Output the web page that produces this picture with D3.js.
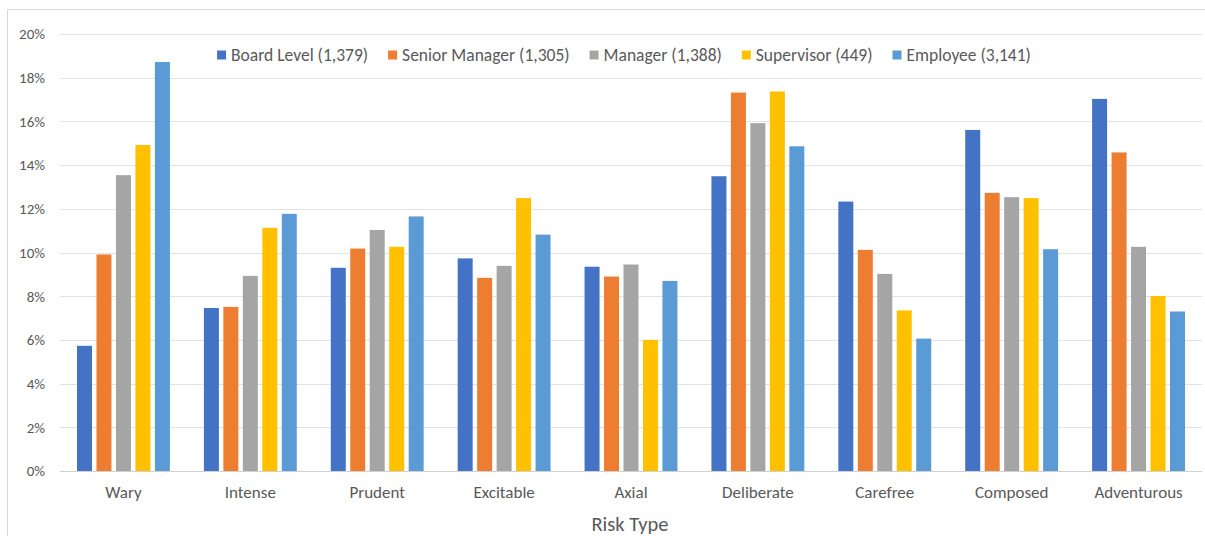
<!DOCTYPE html>
<html>
<head>
<meta charset="utf-8">
<script src="https://cdn.jsdelivr.net/npm/d3@7"></script>
<style>
  html, body { margin: 0; padding: 0; background: #fff; }
  svg { display: block; font-family: Calibri, Carlito, "Liberation Sans", Arial, sans-serif; }
</style>
</head>
<body>
<svg id="chart" width="1205" height="536"></svg>
<script>
const categories = ["Wary", "Intense", "Prudent", "Excitable", "Axial", "Deliberate", "Carefree", "Composed", "Adventurous"];
const seriesNames = ["Board Level (1,379)", "Senior Manager (1,305)", "Manager (1,388)", "Supervisor (449)", "Employee (3,141)"];
const boardLevel    = [5.73, 7.46, 9.30, 9.73, 9.35, 13.49, 12.33, 15.61, 17.03];
const seniorManager = [9.91, 7.51, 10.18, 8.84, 8.90, 17.32, 10.12, 12.73, 14.58];
const manager       = [13.54, 8.93, 11.03, 9.39, 9.45, 15.92, 9.02, 12.53, 10.26];
const supervisor    = [14.92, 11.13, 10.26, 12.49, 6.00, 17.37, 7.35, 12.49, 8.01];
const employee      = [18.72, 11.77, 11.65, 10.82, 8.70, 14.86, 6.06, 10.15, 7.30];
const yTicks = [0, 2, 4, 6, 8, 10, 12, 14, 16, 18, 20];
const colors = ["#4472C4", "#ED7D31", "#A5A5A5", "#FFC000", "#5B9BD5"];
const xTitle = "Risk Type";

const seriesValues = [boardLevel, seniorManager, manager, supervisor, employee];

const svg = d3.select("#chart");
const W = 1205, H = 536;
const plot = { left: 60, right: 1202, top: 34, bottom: 471 };
const FONT = "Calibri, Carlito, 'Liberation Sans', Arial, sans-serif";

// chart border
svg.append("rect")
  .attr("x", 7.5).attr("y", 9.5)
  .attr("width", W + 10).attr("height", H + 10)
  .attr("fill", "none").attr("stroke", "#d9d9d9").attr("stroke-width", 1);

const y = d3.scaleLinear().domain([0, 20]).range([plot.bottom, plot.top]);
const x0 = d3.scaleBand().domain(categories).range([plot.left, plot.right])
  .paddingInner(0.268).paddingOuter(0.134);
const x1 = d3.scaleBand().domain(d3.range(seriesNames.length)).range([0, x0.bandwidth()])
  .paddingInner(0.23).paddingOuter(0);

// gridlines
svg.append("g").selectAll("line").data(yTicks).join("line")
  .attr("x1", plot.left).attr("x2", plot.right)
  .attr("y1", d => Math.round(y(d)) + 0.5).attr("y2", d => Math.round(y(d)) + 0.5)
  .attr("stroke", d => d === 0 ? "#d0d0d0" : "#e3e3e3").attr("stroke-width", 1.2);

// y axis labels
const yAxis = d3.axisLeft(y).tickValues(yTicks).tickFormat(d => d + "%").tickSize(0).tickPadding(0);
const gy = svg.append("g").attr("transform", `translate(45,0)`).call(yAxis);
gy.select(".domain").remove();
gy.selectAll("text").attr("fill", "#595959").style("font-size", "15px")
  .style("font-family", FONT);

// bars
const groups = svg.append("g").selectAll("g").data(categories).join("g")
  .attr("transform", d => `translate(${x0(d)},0)`);
groups.selectAll("rect")
  .data((c, ci) => seriesValues.map((vals, si) => ({ si, v: vals[ci] })))
  .join("rect")
  .attr("x", d => x1(d.si))
  .attr("width", x1.bandwidth())
  .attr("y", d => y(d.v))
  .attr("height", d => y(0) - y(d.v))
  .attr("fill", d => colors[d.si]);

// x axis labels
const xAxis = d3.axisBottom(x0).tickSize(0).tickPadding(0);
const gx = svg.append("g").attr("transform", `translate(0,${plot.bottom + 15})`).call(xAxis);
gx.select(".domain").remove();
gx.selectAll("text").attr("fill", "#595959").style("font-size", "17px")
  .attr("dy", "0.71em")
  .style("font-family", FONT);

// x title
svg.append("text")
  .attr("x", (plot.left + plot.right) / 2 - 1).attr("y", 531)
  .attr("text-anchor", "middle").attr("fill", "#595959")
  .style("font-size", "20.5px").text(xTitle);

// legend
const legend = svg.append("g");
const items = legend.selectAll("g").data(seriesNames).join("g");
items.append("rect").attr("width", 9).attr("height", 9).attr("y", -4.5)
  .attr("fill", (d, i) => colors[i]);
items.append("text").attr("x", 14).attr("dy", "0.35em")
  .attr("fill", "#595959").style("font-size", "17.5px").text(d => d);
let cx = 0;
const gap = 20;
items.each(function () {
  const w = 14 + d3.select(this).select("text").node().getComputedTextLength();
  d3.select(this).attr("transform", `translate(${cx},0)`);
  cx += w + gap;
});
const totalW = cx - gap;
legend.attr("transform", `translate(${624 - totalW / 2},55)`);
</script>
</body>
</html>
